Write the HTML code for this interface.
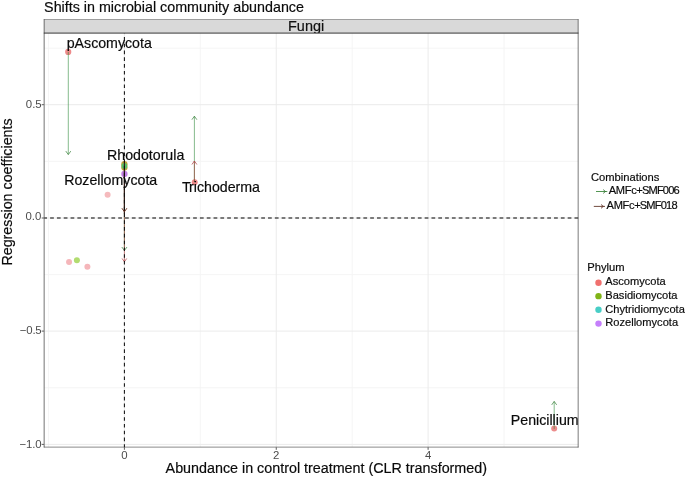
<!DOCTYPE html>
<html>
<head>
<meta charset="utf-8">
<title>Shifts in microbial community abundance</title>
<style>
  html, body { margin: 0; padding: 0; background: #ffffff; }
  body { width: 685px; height: 477px; overflow: hidden; }
  svg { display: block; will-change: transform; }
  text { font-family: "Liberation Sans", sans-serif; stroke: #0a0a0a; stroke-width: 0.18px; paint-order: stroke fill; }
  .tick { stroke: none; }
  .tick { font-size: 11.4px; fill: #4d4d4d; }
  .lab { font-size: 14.27px; fill: #0a0a0a; }
  .ann { font-size: 14.2px; fill: #0a0a0a; }
  .leg { font-size: 11.1px; fill: #0a0a0a; }
  .legt { font-size: 11.2px; fill: #0a0a0a; }
</style>
</head>
<body>
<svg width="685" height="477" viewBox="0 0 685 477">
  <rect x="0" y="0" width="685" height="477" fill="#ffffff"/>

  <!-- title -->
  <text x="44.1" y="12.1" font-size="14.3" fill="#0a0a0a">Shifts in microbial community abundance</text>

  <!-- strip -->
  <rect x="44.15" y="19.7" width="534" height="13.4" fill="#d9d9d9"/>
  <text x="306.1" y="30.6" font-size="14.45" fill="#111111" text-anchor="middle">Fungi</text>

  <!-- panel background -->
  <rect x="44.15" y="33.1" width="534" height="414" fill="#ffffff"/>

  <!-- minor grid -->
  <g stroke="#f4f4f4" stroke-width="0.9">
    <line x1="48.5" y1="33" x2="48.5" y2="447"/>
    <line x1="200.3" y1="33" x2="200.3" y2="447"/>
    <line x1="352.2" y1="33" x2="352.2" y2="447"/>
    <line x1="504.1" y1="33" x2="504.1" y2="447"/>
    <line x1="44.2" y1="48.2" x2="578.2" y2="48.2"/>
    <line x1="44.2" y1="161.4" x2="578.2" y2="161.4"/>
    <line x1="44.2" y1="274.6" x2="578.2" y2="274.6"/>
    <line x1="44.2" y1="387.8" x2="578.2" y2="387.8"/>
  </g>
  <!-- major grid -->
  <g stroke="#ebebeb" stroke-width="1">
    <line x1="124.4" y1="33" x2="124.4" y2="447"/>
    <line x1="276.25" y1="33" x2="276.25" y2="447"/>
    <line x1="428.1" y1="33" x2="428.1" y2="447"/>
    <line x1="44.2" y1="104.7" x2="578.2" y2="104.7"/>
    <line x1="44.2" y1="218" x2="578.2" y2="218"/>
    <line x1="44.2" y1="331.1" x2="578.2" y2="331.1"/>
    <line x1="44.2" y1="444.4" x2="578.2" y2="444.4"/>
  </g>

  <!-- reference dashed lines -->
  <line x1="44.2" y1="218" x2="578.2" y2="218" stroke="#525252" stroke-width="1.35" stroke-dasharray="3.75 3.06" stroke-dashoffset="0.9"/>

  <!-- points (drawn under arrows) -->
  <g>
    <circle cx="68.2" cy="51.9" r="3.1" fill="#ee8a8a"/>
    <circle cx="194.7" cy="182.2" r="3" fill="#f08c8c"/>
    <circle cx="554.2" cy="428.5" r="3" fill="#ec8c8c"/>
    <circle cx="107.6" cy="194.7" r="3" fill="#f5babd"/>
    <circle cx="69.05" cy="261.9" r="3" fill="#f5b6ba"/>
    <circle cx="87.4" cy="266.8" r="3" fill="#f5b6ba"/>
    <circle cx="76.9" cy="260.25" r="3" fill="#b2dc70"/>
    <circle cx="124.4" cy="164.2" r="3.15" fill="#c0a238"/>
    <circle cx="124.4" cy="167.6" r="3.15" fill="#c0a238"/>
    <circle cx="124.4" cy="165.9" r="2.9" fill="#58c068"/>
    <circle cx="124.4" cy="173.9" r="3.15" fill="#c280e4"/>
  </g>

  <!-- arrows -->
  <g fill="none" stroke-linecap="butt" stroke-linejoin="miter">
    <!-- green shafts -->
    <g stroke="#2f8a3a" stroke-opacity="0.58" stroke-width="1">
      <line x1="68.3" y1="51.9" x2="68.3" y2="154.4"/>
      <line x1="194.4" y1="181.85" x2="194.4" y2="116.3"/>
      <line x1="554.2" y1="428.9" x2="554.2" y2="401.5"/>
      <line x1="124.4" y1="165" x2="124.4" y2="250.3"/>
    </g>
    <!-- green heads -->
    <g stroke="#3a803a" stroke-opacity="0.8" stroke-width="0.9">
      <polyline points="65.8,151.1 68.3,154.6 70.8,151.1"/>
      <polyline points="191.9,119.7 194.4,116.2 196.9,119.7"/>
      <polyline points="551.7,404.9 554.2,401.4 556.7,404.9"/>
      <polyline points="121.8,247 124.4,250.5 127,247"/>
    </g>
    <!-- brown shafts -->
    <g stroke="#a52a2a" stroke-opacity="0.55" stroke-width="1">
      <line x1="194.4" y1="181.85" x2="194.4" y2="161"/>
      <line x1="124.4" y1="165" x2="124.4" y2="211.5"/>
      <line x1="124.4" y1="173.9" x2="124.4" y2="261.4"/>
    </g>
    <!-- brown heads -->
    <g stroke="#b03a40" stroke-opacity="0.8" stroke-width="0.9">
      <polyline points="191.9,164.5 194.4,161 196.9,164.5"/>
      <polyline points="122.1,258.5 124.4,261.8 126.7,258.5"/>
    </g>
  </g>
  <!-- dark core of overlapping centre line -->
  <line x1="124.4" y1="161" x2="124.4" y2="214" stroke="#2a1a16" stroke-width="1.1"/>
  <polyline points="121.9,208.2 124.4,211.8 126.9,208.2" fill="none" stroke="#6a3020" stroke-width="0.95"/>

  <!-- vertical reference dashed line (on top of arrows) -->
  <line x1="124.4" y1="447.3" x2="124.4" y2="33.6" stroke="#111111" stroke-width="1.05" stroke-dasharray="3.6 3.19" stroke-dashoffset="0.65"/>

  <!-- annotations -->
  <text class="ann" x="66.7" y="48.2">pAscomycota</text>
  <text class="ann" x="107" y="159.9">Rhodotorula</text>
  <text class="ann" x="64.2" y="184.9">Rozellomycota</text>
  <text class="ann" x="182" y="191.7">T<tspan dx="-1.1">richoderma</tspan></text>
  <text class="ann" x="510.8" y="424.8">Penicillium</text>

  <!-- panel border -->
  <g stroke="#333333" fill="none">
    <line x1="44.155" y1="19.28" x2="44.155" y2="447.42" stroke-width="0.69"/>
    <line x1="578.17" y1="19.28" x2="578.17" y2="447.42" stroke-width="0.65"/>
    <line x1="43.81" y1="19.5" x2="578.5" y2="19.5" stroke-width="0.45"/>
    <line x1="43.81" y1="33.1" x2="578.5" y2="33.1" stroke-width="0.98"/>
    <line x1="43.81" y1="447.13" x2="578.5" y2="447.13" stroke-width="0.57"/>
  </g>

  <!-- axis ticks -->
  <g stroke="#333333" stroke-width="0.8">
    <line x1="41.7" y1="104.7" x2="43.9" y2="104.7"/>
    <line x1="41.7" y1="218" x2="43.9" y2="218"/>
    <line x1="41.7" y1="331.1" x2="43.9" y2="331.1"/>
    <line x1="41.7" y1="444.4" x2="43.9" y2="444.4"/>
    <line x1="124.4" y1="447.3" x2="124.4" y2="449.8"/>
    <line x1="276.25" y1="447.3" x2="276.25" y2="449.8"/>
    <line x1="428.1" y1="447.3" x2="428.1" y2="449.8"/>
  </g>

  <!-- tick labels -->
  <text class="tick" x="41.7" y="107.7" text-anchor="end">0.5</text>
  <text class="tick" x="41.3" y="220" text-anchor="end">0.0</text>
  <text class="tick" x="41.5" y="333.9" text-anchor="end" letter-spacing="-0.2">−0.5</text>
  <text class="tick" x="41.3" y="447.8" text-anchor="end" letter-spacing="-0.2">−1.0</text>
  <text class="tick" x="124.4" y="459" text-anchor="middle">0</text>
  <text class="tick" x="276.25" y="459" text-anchor="middle">2</text>
  <text class="tick" x="428.1" y="459" text-anchor="middle">4</text>

  <!-- axis titles -->
  <text class="lab" x="165.6" y="472.9" style="font-size:14.32px">Abundance in control treatment (CLR transformed)</text>
  <text class="lab" transform="translate(11.95,265.6) rotate(-90)">Regression coefficients</text>

  <!-- legend: Combinations -->
  <text class="legt" x="591" y="180.6">Combinations</text>
  <g fill="none">
    <g stroke="#348334">
      <line x1="596" y1="191.5" x2="607.3" y2="191.5" stroke-width="0.85"/>
      <polyline points="603.2,189.6 605.5,191.5 603.2,193.4" stroke-width="0.8" stroke="#2f6f2f"/>
    </g>
    <g stroke="#5a2c1e">
      <line x1="593.8" y1="206.4" x2="605" y2="206.4" stroke-width="0.85"/>
      <polyline points="601,204.5 603.3,206.4 601,208.3" stroke-width="0.8" stroke="#5a2a1e"/>
    </g>
  </g>
  <text class="leg" x="608.8" y="193.9"><tspan letter-spacing="-0.36">AMFc</tspan><tspan letter-spacing="-0.85">+SMF006</tspan></text>
  <text class="leg" x="606.6" y="208.8"><tspan letter-spacing="-0.36">AMFc</tspan><tspan letter-spacing="-0.82">+SMF018</tspan></text>

  <!-- legend: Phylum -->
  <text class="legt" x="587.3" y="270.65">Phylum</text>
  <circle cx="598.5" cy="282.7" r="3.2" fill="#f0706e"/>
  <circle cx="598.5" cy="296.15" r="3.2" fill="#80b418"/>
  <circle cx="598.5" cy="309.8" r="3.2" fill="#48cec6"/>
  <circle cx="598.5" cy="323.6" r="3.2" fill="#c57ffb"/>
  <text class="leg" x="605.3" y="285.35">Ascomycota</text>
  <text class="leg" x="605.3" y="298.95">Basidiomycota</text>
  <text class="leg" x="605.3" y="312.65">Chytridiomycota</text>
  <text class="leg" x="605.3" y="326.25">Rozellomycota</text>
</svg>
</body>
</html>
